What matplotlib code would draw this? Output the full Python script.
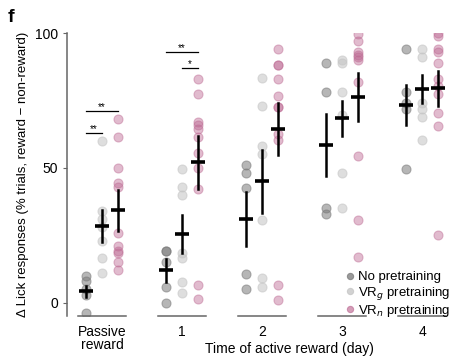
import matplotlib.pyplot as plt

plt.rcParams["font.family"] = ["Liberation Sans", "DejaVu Sans"]

groups = ["Passive\nreward", "1", "2", "3", "4"]
labels = ["No pretraining", "VR$_g$ pretraining", "VR$_n$ pretraining"]

# individual animals, per group
no_pts = [
    [10, 8, 5, 3, -4],
    [19, 19, 15, 6, 0],
    [51, 48, 42.5, 10.5, 5],
    [89, 78, 35, 33],
    [94, 78, 74, 72, 49.5],
]
vrg_pts = [
    [60, 34, 31, 28, 23, 16.5, 11],
    [49.5, 43, 40, 18.5, 16.5, 7.5, 3.5],
    [83.5, 73, 58, 55, 30.5, 9, 6],
    [90, 89, 78, 69.5, 48, 35],
    [94, 91, 74, 72, 69, 60.5],
]
vrn_pts = [
    [68, 61.5, 50, 44.5, 43, 26, 21, 19, 18.5, 15, 12],
    [83, 77.5, 67, 66, 64.5, 61.5, 55.5, 50, 42, 6.5, 1.5],
    [94, 88, 88, 83, 76.5, 72.5, 72.5, 62.5, 60.5, 6.5, 1],
    [99.5, 97, 93, 92, 91, 90, 82, 54.5, 30.5, 17],
    [100, 99, 94, 93, 89, 83, 80.5, 77.5, 70.5, 65.5, 25],
]

no_mean = [4.2, 12, 31, 58.5, 73.3]
no_sem = [2, 4.3, 10, 11.5, 7.4]
vrg_mean = [28.5, 25.5, 45, 68.4, 79.3]
vrg_sem = [6, 7, 11.7, 6.5, 5.2]
vrn_mean = [34.2, 52, 64.3, 76.2, 79.5]
vrn_sem = [7.7, 10, 9.7, 8.8, 6.4]

colors = ["#7a7a7a", "#c4c4c4", "#bd6a93"]
alphas = [0.55, 0.55, 0.45]
offsets = [-0.2, 0.0, 0.2]

fig = plt.figure(figsize=(4.65, 3.63), dpi=100)
ax = fig.add_axes([0.144, 0.129, 0.824, 0.78])

all_pts = [no_pts, vrg_pts, vrn_pts]
means = [no_mean, vrg_mean, vrn_mean]
sems = [no_sem, vrg_sem, vrn_sem]

for c in range(3):
    for g in range(len(groups)):
        x = g + offsets[c]
        ys = all_pts[c][g]
        ax.plot([x] * len(ys), ys, "o", ms=6.5, color=colors[c],
                alpha=alphas[c], mec=colors[c], mew=0.8, zorder=2)
        m = means[c][g]
        s = sems[c][g]
        ax.plot([x, x], [m - s, m + s], color="black", lw=1.8, zorder=4)
        ax.plot([x - 0.085, x + 0.085], [m, m], color="black", lw=2.6,
                solid_capstyle="butt", zorder=4)

# legend proxies
for c in range(3):
    ax.plot([], [], "o", ms=4.5, color=colors[c], alpha=alphas[c] + 0.2,
            mec=colors[c], mew=0.8, label=labels[c])
leg = ax.legend(loc="lower right", bbox_to_anchor=(1.0, -0.01), frameon=False,
                fontsize=9.5, handletextpad=0.2, labelspacing=0.1,
                handlelength=0.8, borderaxespad=0.0, borderpad=0.0)

# significance bars
sig = [
    (0 - 0.2, 0.0, 63, "**"),
    (0 - 0.2, 0.2, 71.2, "**"),
    (1 - 0.2, 1.2, 93, "**"),
    (1.0, 1.2, 87.2, "*"),
]
for x0, x1, y, txt in sig:
    ax.plot([x0, x1], [y, y], color="black", lw=0.9)
    ax.text((x0 + x1) / 2, y - 0.6, txt, ha="center", va="bottom", fontsize=7)

ax.set_xlim(-0.4375, 4.35)
ax.set_ylim(-5, 100)

# group baselines
for g in range(len(groups)):
    ax.plot([g - 0.3, g + 0.3], [-5, -5], color="#666666", lw=1.1,
            clip_on=False)

ax.spines["top"].set_visible(False)
ax.spines["right"].set_visible(False)
ax.spines["bottom"].set_visible(False)
ax.spines["left"].set_color("#666666")
ax.spines["left"].set_linewidth(1.1)

ax.set_yticks([0, 50, 100])
ax.set_xticks(range(len(groups)))
ax.set_xticklabels(groups, fontsize=10, linespacing=0.95)
ax.tick_params(axis="x", length=0, pad=6)
ax.tick_params(axis="y", labelsize=10, length=3, color="#666666")

ax.set_ylabel("Δ Lick responses (% trials, reward − non-reward)", fontsize=9.5)
ax.set_xlabel("Time of active reward (day)", fontsize=10, labelpad=6)
ax.xaxis.set_label_coords(0.58, -0.09)

fig.text(0.017, 0.94, "f", fontsize=14, fontweight="bold")

fig.savefig("out.png", dpi=100)
